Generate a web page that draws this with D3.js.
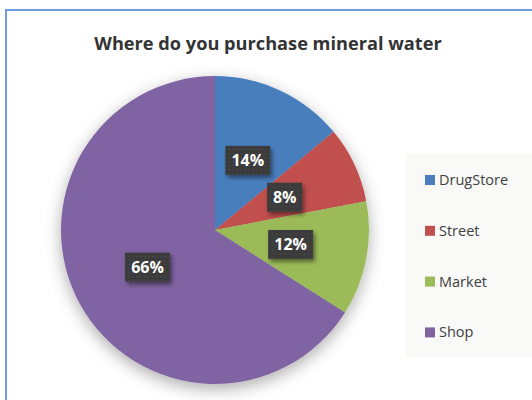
<!DOCTYPE html>
<html><head><meta charset="utf-8">
<script src="https://cdn.jsdelivr.net/npm/d3@7"></script>
<style>html,body{margin:0;padding:0;background:#fff;}svg{display:block;}</style>
</head><body>
<svg id="chart" width="532" height="400"></svg>
<script>
const categories = ["DrugStore", "Street", "Market", "Shop"];
const values = [14, 8, 12, 66];
const colors = ["#4a7ebd", "#c0504d", "#9bbb59", "#8064a2"];
const title = "Where do you purchase mineral water";

const svg = d3.select("#chart");
const W = 532, H = 400;
const cx = 215, cy = 230, R = 154;

const defs = svg.append("defs");
const sh = defs.append("filter").attr("id","pieShadow").attr("x","-30%").attr("y","-30%").attr("width","160%").attr("height","160%");
sh.append("feDropShadow").attr("dx",0).attr("dy",5).attr("stdDeviation",8).attr("flood-color","#000").attr("flood-opacity",0.32);
const lsh = defs.append("filter").attr("id","lblShadow").attr("x","-30%").attr("y","-30%").attr("width","170%").attr("height","170%");
lsh.append("feDropShadow").attr("dx",2).attr("dy",3).attr("stdDeviation",2).attr("flood-color","#000").attr("flood-opacity",0.45);
const pat = defs.append("pattern").attr("id","dots").attr("width",4).attr("height",4).attr("patternUnits","userSpaceOnUse");
pat.append("rect").attr("width",4).attr("height",4).attr("fill","#3b3b3b");
pat.append("rect").attr("x",1).attr("y",1).attr("width",1).attr("height",1).attr("fill","#555");

// frame
svg.append("rect").attr("x",6).attr("y",10).attr("width",W+10).attr("height",H+10)
  .attr("fill","#fff").attr("stroke","#6d9de0").attr("stroke-width",2);

svg.append("text").attr("x",268).attr("y",50).attr("text-anchor","middle")
  .attr("font-family","'Open Sans', sans-serif").attr("font-weight","bold")
  .attr("font-size",18.2).attr("fill","#333").text(title);

const pie = d3.pie().sort(null).value(d => d)(values);
const arc = d3.arc().innerRadius(0).outerRadius(R);
const labelArc = d3.arc().innerRadius(R*0.5).outerRadius(R*0.5);

const g = svg.append("g").attr("transform",`translate(${cx},${cy})`);
g.append("g").attr("filter","url(#pieShadow)")
  .selectAll("path").data(pie).join("path")
  .attr("d", arc).attr("fill", (d,i) => colors[i]);

const lg = g.append("g").selectAll("g").data(pie).join("g")
  .attr("transform", d => `translate(${labelArc.centroid(d)})`);
lg.each(function(d){
  const sel = d3.select(this);
  const txt = d.data + "%";
  const w = txt.length === 2 ? 35 : 45;
  sel.append("rect").attr("x",-w/2).attr("y",-14.5).attr("width",w).attr("height",29)
    .attr("fill","url(#dots)").attr("filter","url(#lblShadow)");
  sel.append("text").attr("text-anchor","middle").attr("dy","0.36em")
    .attr("font-family","'Open Sans', sans-serif").attr("font-weight","bold")
    .attr("font-size",16).attr("fill","#fff").text(txt);
});

// legend
svg.append("rect").attr("x",406).attr("y",154).attr("width",140).attr("height",203).attr("fill","#f9f9f8");
const leg = svg.append("g").selectAll("g").data(categories).join("g")
  .attr("transform",(d,i)=>`translate(425,${180 + i*50.8})`);
leg.append("rect").attr("x",0).attr("y",-5).attr("width",10).attr("height",10).attr("fill",(d,i)=>colors[i]);
leg.append("text").attr("x",14).attr("dy","0.35em")
  .attr("font-family","'Open Sans', sans-serif").attr("font-size",14.5).attr("fill","#404040").text(d=>d);
</script>
</body></html>
